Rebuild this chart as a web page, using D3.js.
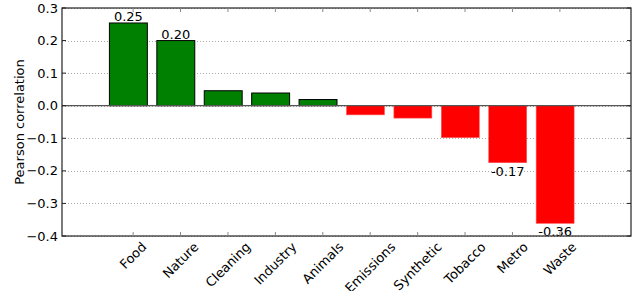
<!DOCTYPE html>
<html>
<head>
<meta charset="utf-8">
<script src="https://cdn.jsdelivr.net/npm/d3@7"></script>
<style>
  body { margin: 0; background: #fff; }
  text { font-family: "DejaVu Sans", sans-serif; fill: #000; }
</style>
</head>
<body>
<svg id="chart" width="640" height="291"></svg>
<script>
var categories = ['Food', 'Nature', 'Cleaning', 'Industry', 'Animals', 'Emissions', 'Synthetic', 'Tobacco', 'Metro', 'Waste']
var values = [0.254, 0.200, 0.046, 0.039, 0.019, -0.028, -0.038, -0.098, -0.175, -0.361]
// only some bars carry a number
var shownLabels = ['0.25', '0.20', null, null, null, null, null, null, '-0.17', '-0.36']
var yTicks = [0.3, 0.2, 0.1, 0.0, -0.1, -0.2, -0.3, -0.4]

var margin = {left: 62, right: 9, top: 8, bottom: 55}
var width = 640 - margin.left - margin.right
var height = 291 - margin.top - margin.bottom

var svg = d3.select('#chart')
var g = svg.append('g').attr('transform', 'translate(' + margin.left + ',' + margin.top + ')')

var x = d3.scaleLinear().domain([-1, 11]).range([0, width])
var y = d3.scaleLinear().domain([-0.4, 0.3]).range([height, 0])

// dotted grid
g.selectAll('.grid')
  .data(yTicks)
  .enter().append('line')
  .attr('class', 'grid')
  .attr('x1', 0).attr('x2', width)
  .attr('y1', function(d) { return Math.round(y(d)) + 0.5 })
  .attr('y2', function(d) { return Math.round(y(d)) + 0.5 })
  .attr('stroke', '#aaa')
  .attr('stroke-width', 1)
  .attr('stroke-dasharray', '1,2')

// bars
g.selectAll('.bar')
  .data(values)
  .enter().append('rect')
  .attr('class', 'bar')
  .attr('x', function(d, i) { return x(i) })
  .attr('width', x(0.8) - x(0))
  .attr('y', function(d) { return y(Math.max(0, d)) })
  .attr('height', function(d) { return Math.abs(y(d) - y(0)) })
  .attr('fill', function(d) { return d >= 0 ? '#008000' : '#ff0000' })
  .attr('stroke', function(d) { return d >= 0 ? '#000' : '#ff5050' })
  .attr('stroke-width', function(d) { return d >= 0 ? 1 : 0.6 })

// zero line
g.append('line')
  .attr('x1', 0).attr('x2', width)
  .attr('y1', y(0)).attr('y2', y(0))
  .attr('stroke', '#555')
  .attr('stroke-width', 1.2)

// value labels
var labelData = values.map(function(v, i) { return {i: i, v: v, label: shownLabels[i]} })
  .filter(function(d) { return d.label != null })

g.selectAll('.val')
  .data(labelData)
  .enter().append('text')
  .attr('class', 'val')
  .attr('x', function(d) { return x(d.i + 0.4) })
  .attr('y', function(d) { return d.v >= 0 ? y(d.v) - 2 : y(d.v) + 13 })
  .attr('text-anchor', 'middle')
  .style('font-size', '13px')
  .text(function(d) { return d.label })

// frame
g.append('rect')
  .attr('x', 0).attr('y', 0)
  .attr('width', width).attr('height', height)
  .attr('fill', 'none')
  .attr('stroke', '#222')
  .attr('stroke-width', 1.2)

// y ticks, both sides, inward
yTicks.forEach(function(t) {
  var yy = y(t)
  g.append('line').attr('x1', 0).attr('x2', 4).attr('y1', yy).attr('y2', yy).attr('stroke', '#222')
  g.append('line').attr('x1', width).attr('x2', width - 4).attr('y1', yy).attr('y2', yy).attr('stroke', '#222')
  g.append('text')
    .attr('x', -4)
    .attr('y', yy)
    .attr('dy', '0.35em')
    .attr('text-anchor', 'end')
    .style('font-size', '13px')
    .text(d3.format('.1f')(t).replace('-', '\u2212'))
})

// x ticks, top and bottom, inward
categories.forEach(function(c, i) {
  var xx = x(i + 0.5)
  g.append('line').attr('x1', xx).attr('x2', xx).attr('y1', height).attr('y2', height - 4).attr('stroke', '#888')
  g.append('line').attr('x1', xx).attr('x2', xx).attr('y1', 0).attr('y2', 4).attr('stroke', '#888')
})

// rotated category labels, bbox centred on tick
var labelTop = height + 4
g.selectAll('.cat')
  .data(categories)
  .enter().append('text')
  .attr('class', 'cat')
  .attr('text-anchor', 'middle')
  .attr('dominant-baseline', 'central')
  .style('font-size', '13px')
  .text(function(d) { return d })
  .attr('transform', function(d, i) {
    var len = this.getComputedTextLength()
    var half = (len + 13) * Math.SQRT1_2 / 2
    return 'translate(' + x(i + 0.5) + ',' + (labelTop + half) + ') rotate(-45)'
  })

// y axis title
svg.append('text')
  .attr('transform', 'translate(24,' + (margin.top + height / 2) + ') rotate(-90)')
  .attr('text-anchor', 'middle')
  .style('font-size', '13px')
  .text('Pearson correlation')
</script>
</body>
</html>
